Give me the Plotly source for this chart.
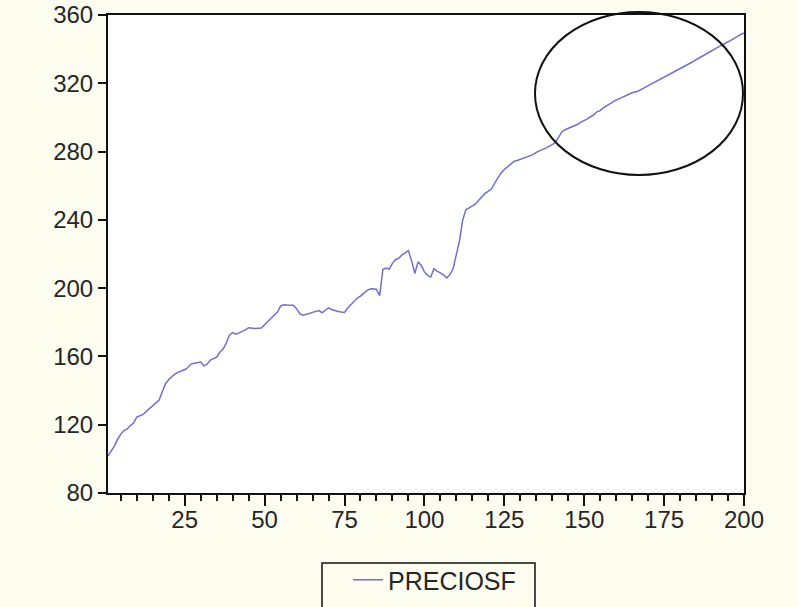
import plotly.graph_objects as go

# Observation index and the PRECIOSF series (200 observations)
obs = list(range(1, 201))
preciosf = [
    101.8, 104.5, 107.5, 111.5, 114.5, 116.5, 117.5, 119.5, 121.0, 124.5,
    125.5, 126.0, 127.8, 129.5, 131.0, 132.3, 134.5, 139.5, 144.0, 146.5,
    148.3, 149.8, 150.8, 151.5, 152.2, 153.5, 155.5, 156.0, 156.3, 156.7,
    154.5, 155.5, 157.8, 158.5, 159.5, 162.4, 164.3, 167.8, 172.5, 174.0,
    173.0, 173.8, 174.5, 175.5, 176.8, 176.5, 176.3, 176.5, 176.7, 178.6,
    180.5, 182.5, 184.0, 186.0, 189.5, 190.2, 190.1, 190.2, 190.0, 188.0,
    185.0, 184.2, 184.5, 185.2, 185.8, 186.4, 186.9, 185.6, 187.2, 188.5,
    187.5, 186.8, 186.3, 186.0, 185.8, 188.4, 190.5, 192.5, 194.2, 195.3,
    197.0, 198.5, 199.5, 199.6, 199.2, 195.6, 210.9, 211.8, 211.2, 214.5,
    216.8, 217.6, 219.5, 221.0, 222.0, 216.0, 208.6, 215.4, 213.5, 209.5,
    207.5, 206.5, 211.4, 210.0, 209.0, 207.8, 206.0, 208.0, 211.5, 219.0,
    228.0, 240.0, 246.0, 247.0, 248.2, 249.3, 251.5, 253.5, 255.5, 256.8,
    258.2, 261.5, 264.5, 267.5, 269.5, 271.2, 272.8, 274.2, 274.8, 275.5,
    276.0, 276.8, 277.5, 278.2, 279.5, 280.5, 281.3, 282.0, 282.8, 284.0,
    285.5, 288.5, 291.5, 292.8, 293.5, 294.2, 295.0, 296.0, 297.2, 298.1,
    299.2, 300.4, 301.5, 303.3, 304.0, 305.6, 306.8, 308.0, 309.4, 310.3,
    311.0, 312.0, 313.0, 313.6, 314.5, 315.0, 315.5, 316.6, 317.6, 318.3,
    319.2, 320.3, 321.2, 322.3, 323.3, 324.5, 325.6, 326.6, 327.5, 328.3,
    329.3, 330.4, 331.5, 332.6, 333.8, 334.9, 335.8, 336.9, 338.0, 339.5,
    340.5, 341.3, 342.3, 343.3, 344.2, 345.3, 346.5, 347.8, 348.6, 349.5,
]

y_ticks = [80, 120, 160, 200, 240, 280, 320, 360]
x_ticks = [25, 50, 75, 100, 125, 150, 175, 200]
series_name = "PRECIOSF"

# Figure geometry (pixels)
W, H = 798, 607
ML, MR, MT, MB = 108, 54, 15, 114
PW, PH = W - ML - MR, H - MT - MB


def paper_x(px):
    return (px - ML) / PW


def paper_y(py):
    return (H - MB - py) / PH


axis_font = dict(family="Liberation Sans, Arial, sans-serif", size=24, color="#262626")

fig = go.Figure()
fig.add_trace(go.Scatter(
    x=obs, y=preciosf, mode="lines", name=series_name,
    line=dict(color="#6f6fd4", width=1.5),
    showlegend=True,
))

fig.update_layout(
    width=W, height=H,
    margin=dict(l=ML, r=MR, t=MT, b=MB, pad=0, autoexpand=False),
    paper_bgcolor="#fdfdf0",
    plot_bgcolor="#ffffff",
    showlegend=True,
    legend=dict(
        x=paper_x(348), y=paper_y(557), xanchor="left", yanchor="top",
        orientation="h", bgcolor="rgba(0,0,0,0)", borderwidth=0,
        font=dict(family="Liberation Sans, Arial, sans-serif", size=25, color="#262626"),
    ),
    xaxis=dict(
        range=[1, 200], tickvals=x_ticks, ticktext=[str(v) for v in x_ticks],
        showgrid=False, zeroline=False,
        showline=True, linecolor="#111111", linewidth=2, mirror=True,
        ticks="outside", ticklen=11, tickwidth=2, tickcolor="#111111",
        ticklabelstandoff=-7,
        minor=dict(dtick=5, tick0=0, ticks="outside", ticklen=6, tickwidth=2,
                   tickcolor="#111111", showgrid=False),
        tickfont=axis_font,
    ),
    yaxis=dict(
        range=[80, 360], tickvals=y_ticks, ticktext=[str(v) for v in y_ticks],
        showgrid=False, zeroline=False,
        showline=True, linecolor="#111111", linewidth=2, mirror=True,
        ticks="outside", ticklen=8, tickwidth=2, tickcolor="#111111",
        tickfont=axis_font,
    ),
    shapes=[
        # highlight ring around the upper end of the series
        dict(type="circle", xref="paper", yref="paper",
             x0=paper_x(535), x1=paper_x(743), y0=paper_y(175), y1=paper_y(12),
             line=dict(color="#111111", width=2)),
        # legend frame
        dict(type="rect", xref="paper", yref="paper",
             x0=paper_x(322), x1=paper_x(535), y0=paper_y(620), y1=paper_y(563),
             line=dict(color="#111111", width=1.5), layer="above"),
    ],
)

fig.write_html("out.html")
